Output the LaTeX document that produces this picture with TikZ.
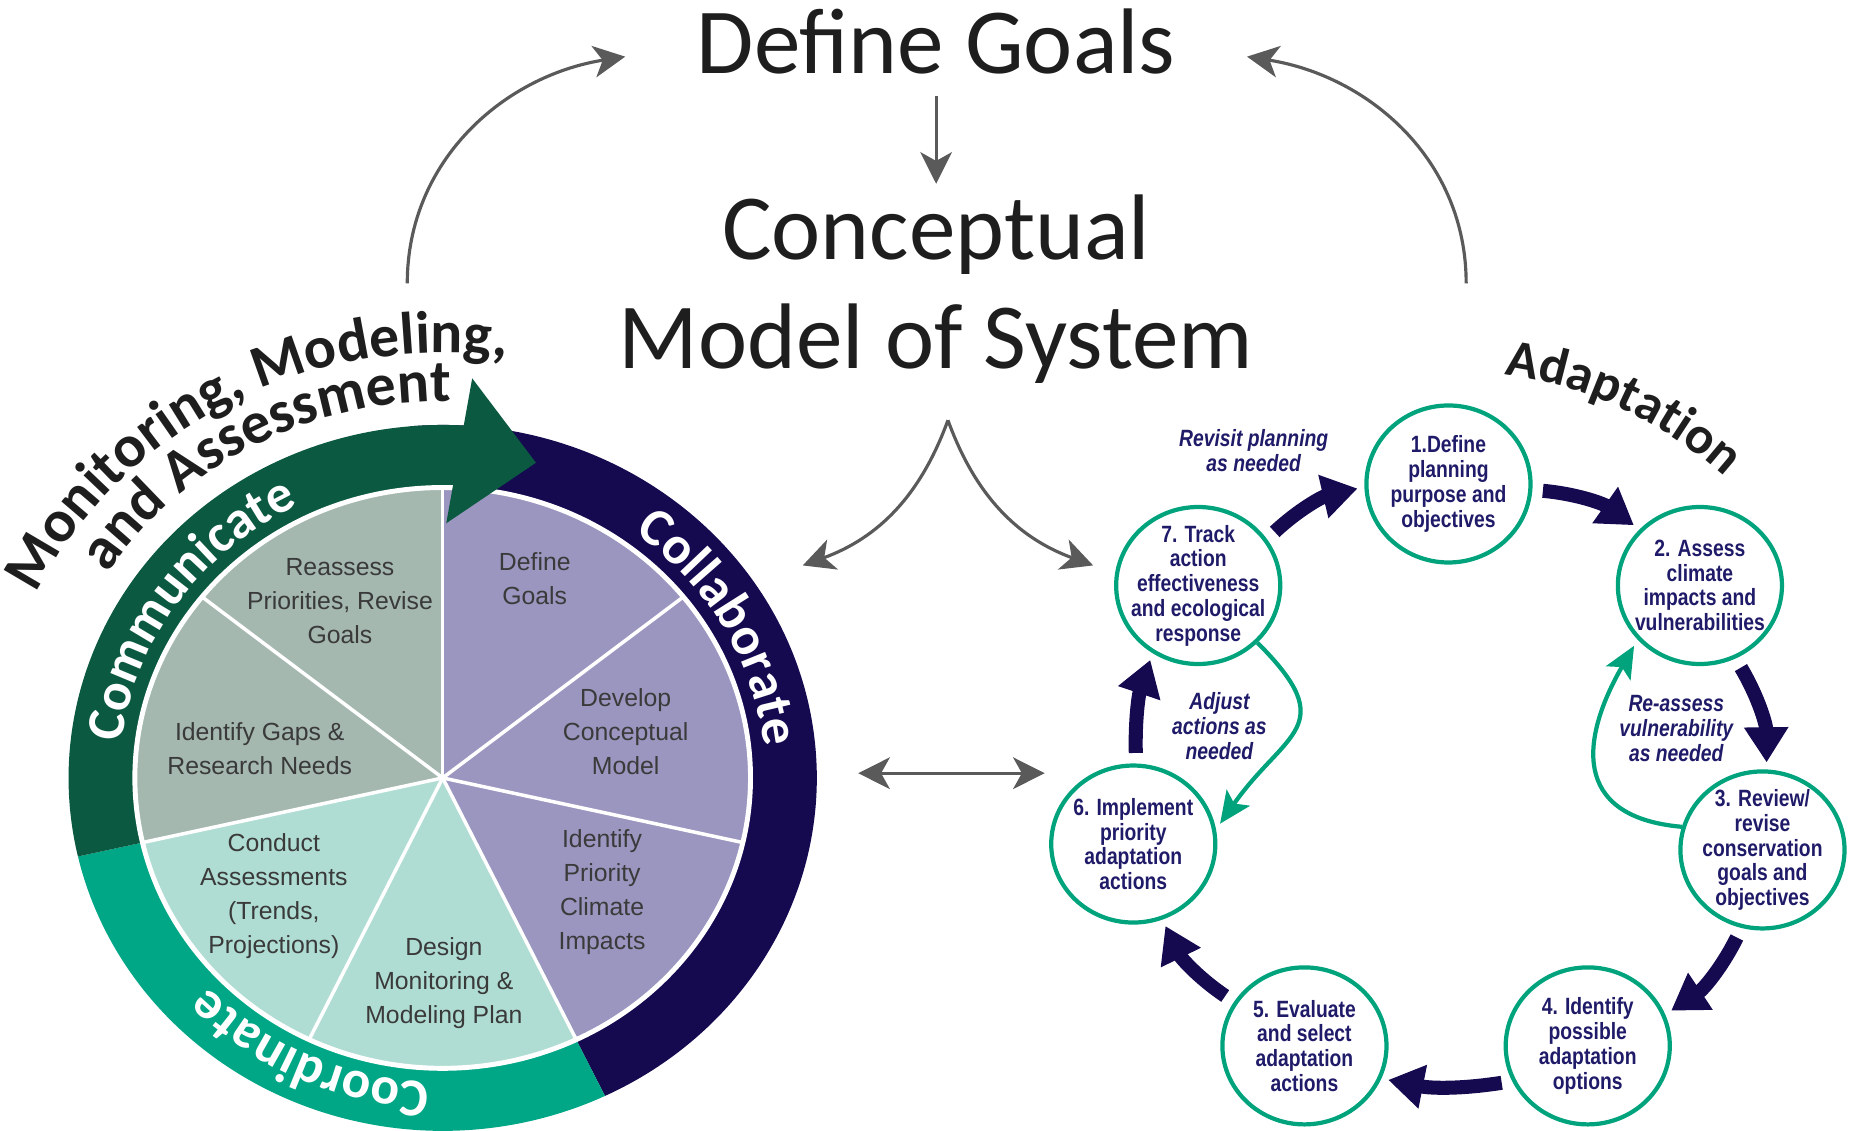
\documentclass[tikz,border=0pt]{standalone}
\usepackage{fontspec}
\setmainfont{Carlito}
\newfontfamily\wheelfont{Liberation Sans}
\newfontfamily\cycfont[FakeStretch=0.82]{Liberation Sans}
\usetikzlibrary{arrows.meta, shapes.geometric, decorations.text}

\definecolor{titleblack}{HTML}{1E1E1E}
\definecolor{arrowgray}{HTML}{5A5A5A}
\definecolor{lavender}{HTML}{9A96C0}
\definecolor{mint}{HTML}{B0DDD3}
\definecolor{sage}{HTML}{A4B8AF}
\definecolor{pine}{HTML}{0C5941}
\definecolor{ringteal}{HTML}{00A786}
\definecolor{ringnavy}{HTML}{150A50}
\definecolor{wheelgray}{HTML}{3A3A3A}
\definecolor{cycgreen}{HTML}{00A37C}
\definecolor{cycnavy}{HTML}{201B68}

\newcommand{\pxu}{0.11805mm}
\newcommand{\ringfont}{\fontsize{15.2}{18}\selectfont\bfseries}
\newcommand{\arcfont}{\fontsize{17}{20}\selectfont\bfseries}
\newcommand{\adafont}{\fontsize{15}{18}\selectfont\bfseries}

\tikzset{
  bigtitle/.style={font=\fontsize{26.5}{30.8}\selectfont, text=titleblack, inner sep=0pt},
  garrow/.style={draw=arrowgray, line width=0.9pt, -{Stealth[length=9pt, width=9pt, inset=2.5pt]}},
  wheeltext/.style={font=\wheelfont\fontsize{7.05}{9.7}\selectfont, text=wheelgray, align=center, inner sep=0pt},
  cycnode/.style={ellipse, draw=cycgreen, line width=1.2pt, minimum width=139*\pxu, minimum height=133*\pxu,
    inner sep=-30*\pxu, align=center, text=cycnavy, font=\cycfont\bfseries\fontsize{6.7}{7.05}\selectfont},
  notetext/.style={align=center, text=cycnavy, inner sep=0pt, font=\cycfont\bfseries\itshape\fontsize{6.7}{7.05}\selectfont},
  cycarrow/.style={draw=ringnavy, line width=4pt, -{Triangle[length=10pt, width=12pt]}, shorten <=3pt, shorten >=2pt},
  greenloop/.style={draw=cycgreen, line width=1.2pt, -{Stealth[length=9pt, width=8pt, inset=2pt]}, shorten >=2pt},
}

\begin{document}
\begin{tikzpicture}[x=\pxu, y=\pxu]
  \useasboundingbox (0,0) rectangle (1568,958);

  % header
  \node[bigtitle, anchor=base] (dg) at (793,896) {Define Goals};
  \node[bigtitle, anchor=base] (cm1) at (793,738) {Conceptual};
  \node[bigtitle, anchor=base] (cm2) at (793,646) {Model of System};
  \draw[garrow, shorten <=6pt, shorten >=3pt] (dg) -- (cm1);

  % wheel
  \begin{scope}[shift={(375,299)}, xscale=1.06]
    % ring
    \fill[ringnavy] (-64.29:246) arc[start angle=-64.29, end angle=95, radius=246]
      -- (95:299) arc[start angle=95, end angle=-64.29, radius=299] -- cycle;
    \fill[ringteal] (192.86:246) arc[start angle=192.86, end angle=295.71, radius=246]
      -- (295.71:299) arc[start angle=295.71, end angle=192.86, radius=299] -- cycle;
    \fill[pine] (85:246) arc[start angle=85, end angle=192.86, radius=246]
      -- (192.86:299) arc[start angle=192.86, end angle=85, radius=299] -- cycle;
    % pie
    \foreach \k/\col in {0/lavender,1/lavender,2/lavender,3/mint,4/mint,5/sage,6/sage}
      \fill[\col] (0,0) -- ({90-\k*360/7}:246) arc[start angle={90-\k*360/7}, delta angle={-360/7}, radius=246] -- cycle;
    \foreach \k in {0,...,6}
      \draw[white, line width=1pt] (0,0) -- ({90-\k*360/7}:246);
    \draw[white, line width=1.4pt] (0,0) circle[radius=246];
    % ring labels
    \path[decorate, decoration={text along path, text align=center, text color=white,
      text={|\ringfont|Communicate}}] (196:258) arc[start angle=196, end angle=95, radius=258];
    \path[decorate, decoration={text along path, text align=center, text color=white,
      text={|\ringfont|Collaborate}}] (80:258) arc[start angle=80, end angle=-22, radius=258];
    \path[decorate, decoration={text along path, text align=center, text color=white,
      text={|\ringfont|Coordinate}}] (295:258) arc[start angle=295, end angle=195, radius=258];
    % outer title
    \path[decorate, decoration={text along path, text align=center, text color=titleblack,
      text={|\arcfont|Monitoring, Modeling,}}] (199.5:360) arc[start angle=199.5, end angle=38.5, radius=360];
    \path[decorate, decoration={text along path, text align=center, text color=titleblack,
      text={|\arcfont|and Assessment}}] (199.5:319) arc[start angle=199.5, end angle=38.5, radius=319];
  \end{scope}
  % arrow head
  \fill[pine] (400,637.5) -- (454,566) -- (378,514.7) -- cycle;

  % wheel steps
  \node[wheeltext] (w1) at (453,468) {Define\\Goals};
  \node[wheeltext] (w2) at (530,338) {Develop\\Conceptual\\Model};
  \node[wheeltext] (w3) at (510,202) {Identify\\Priority\\Climate\\Impacts};
  \node[wheeltext] (w4) at (376,125) {Design\\Monitoring \&\\Modeling Plan};
  \node[wheeltext] (w5) at (232,199) {Conduct\\Assessments\\(Trends,\\Projections)};
  \node[wheeltext] (w6) at (220,324) {Identify Gaps \&\\Research Needs};
  \node[wheeltext] (w7) at (288,449) {Reassess\\Priorities, Revise\\Goals};

  % adaptation cycle
  \node[cycnode] (s1) at (1227,548) {1.Define\\planning\\purpose and\\objectives};
  \node[cycnode] (s2) at (1440,462) {2. Assess\\climate\\impacts and\\vulnerabilities};
  \node[cycnode] (s3) at (1493,238) {3. Review/\\revise\\conservation\\goals and\\objectives};
  \node[cycnode] (s4) at (1345,72) {4. Identify\\possible\\adaptation\\options};
  \node[cycnode] (s5) at (1105,72) {5. Evaluate\\and select\\adaptation\\actions};
  \node[cycnode] (s6) at (960,243) {6. Implement\\priority\\adaptation\\actions};
  \node[cycnode] (s7) at (1015,462) {7. Track\\action\\effectiveness\\and ecological\\response};

  \draw[cycarrow] (s7.34) to[bend left=15] (s1.182);
  \draw[cycarrow] (s1.-4) to[bend left=15] (s2.137);
  \draw[cycarrow] (s2.-64) to[bend left=15] (s3.87);
  \draw[cycarrow] (s3.-105) to[bend left=15] (s4.22);
  \draw[cycarrow] (s4.205) to[bend left=10] (s5.-23);
  \draw[cycarrow] (s5.148) to[bend left=15] (s6.-69);
  \draw[cycarrow] (s6.88) to[bend left=10] (s7.236);

  % loops
  \node[notetext] (revisit) at (1062,576) {Revisit planning\\as needed};
  \node[notetext] (adjust) at (1033,343) {Adjust\\actions as\\needed};
  \node[notetext] (reassess) at (1420,341) {Re-assess\\vulnerability\\as needed};
  \draw[greenloop] (s7.-44) to[out=-45, in=55, looseness=1.6] (s6.10);
  \draw[greenloop] (s3.164) to[out=175, in=240, looseness=1.5] (s2.221);

  \begin{scope}[shift={(1227,295)}]
    \path[decorate, decoration={text along path, text align=center, text color=titleblack,
      text={|\adafont|Adaptation}}] (150:349) arc[start angle=150, end angle=-20, radius=349];
  \end{scope}

  % gray connectors
  \coordinate (mmaTop) at (345,718);
  \coordinate (adaTop) at (1242,718);
  \draw[garrow] (mmaTop) to[out=90, in=189] ([shift={(-60,14)}]dg.base west);
  \draw[garrow] (adaTop) to[out=90, in=-9] ([shift={(60,14)}]dg.base east);
  \coordinate (fork) at (803,602);
  \coordinate (toWheel) at (680,479);
  \coordinate (toCycle) at (926,479);
  \draw[garrow] (fork) to[bend left=25] (toWheel);
  \draw[garrow] (fork) to[bend right=25] (toCycle);
  \coordinate (dblL) at (727,303);
  \coordinate (dblR) at (885,303);
  \draw[garrow, {Stealth[length=9pt, width=9pt, inset=2.5pt]}-{Stealth[length=9pt, width=9pt, inset=2.5pt]}] (dblL) -- (dblR);
\end{tikzpicture}
\end{document}
